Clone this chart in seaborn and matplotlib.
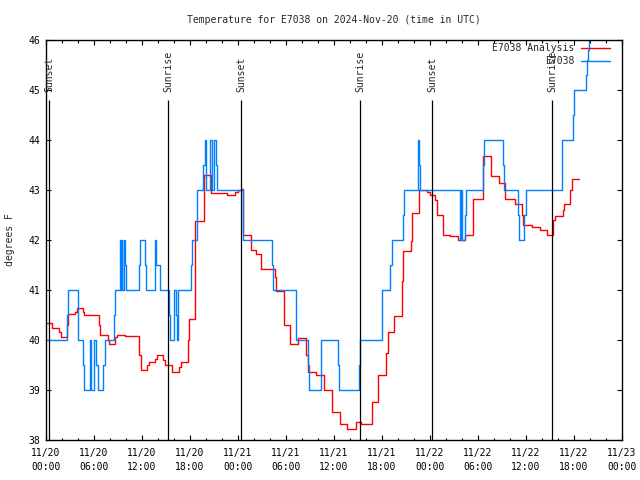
import pandas as pd
import seaborn as sns
import matplotlib.pyplot as plt
import matplotlib.dates as mdates

start = pd.Timestamp("2024-11-20 00:00")

# E7038 observations (hours after 11/20 00:00 UTC, degrees F)
obs_hours = [0, 2.6, 2.7, 3.95, 4.0, 4.65, 4.75, 5.45, 5.6, 6.0, 6.3, 6.45, 7.1, 7.35,
             8.5, 8.6, 9.25, 9.3, 9.4, 9.45, 9.55, 9.8, 9.9, 9.95, 11.6, 11.7, 12.4, 12.5,
             13.65, 13.75, 14.2, 15.4, 15.5, 16.0, 16.3, 16.4, 16.5, 18.1, 18.2, 18.85,
             19.65, 19.85, 20.05, 20.5, 20.7, 21.0, 21.25, 21.35, 24.65, 28.3, 28.4, 31.2,
             31.3, 32.8, 32.9, 34.4, 36.5, 36.6, 39.15, 39.25, 42.0, 43.0, 43.2, 44.6, 44.7,
             46.5, 46.6, 46.7, 51.8, 51.9, 52.0, 52.35, 52.5, 54.6, 54.7, 57.1, 57.2, 59.0,
             59.1, 59.8, 59.95, 64.5, 65.9, 66.0, 67.5, 67.6, 67.75, 67.9, 68.1, 69.0]
obs_temp = [40, 40.5, 41, 40.5, 40, 39.5, 39, 40, 39, 40, 39.5, 39, 39.5, 40,
            40.5, 41, 41.5, 42, 41, 42, 41, 42, 41.5, 41, 41.5, 42, 41.5, 41,
            42, 41.5, 41, 40.5, 40, 41, 40.5, 40, 41, 41.5, 42, 43,
            43.5, 44, 43, 44, 43, 44, 43.5, 43, 42, 41.5, 41, 40.5,
            40, 39.5, 39, 40, 39.5, 39, 39.5, 40, 41, 41.5, 42, 42.5, 43,
            44, 43.5, 43, 42, 43, 42, 42.5, 43, 43.5, 44, 43.5, 43, 42.5,
            42, 42.5, 43, 44, 44.5, 45, 45.3, 45.6, 45.8, 46.2, 46.5, 46.5]

# E7038 analysis
ana_hours = [0, 0.7, 1.67, 1.83, 2.67, 2.8, 3.6, 3.83, 4.67, 4.8, 6.67, 6.8, 7.7, 7.83,
             8.67, 8.83, 9.9, 11.67, 11.83, 12.5, 12.67, 12.9, 13.67, 13.83, 14.67, 14.875,
             15.7, 15.8, 16.67, 16.83, 17.7, 17.83, 18.67, 19.7, 20.65, 22.6, 23.6, 24.0,
             24.4, 24.67, 25.6, 26.3, 26.9, 28.6, 28.8, 29.7, 30.5, 31.5, 32.5, 32.7, 33.7,
             34.7, 35.7, 36.7, 37.6, 38.7, 39.4, 40.7, 41.5, 42.5, 42.7, 43.5, 44.5, 44.6,
             45.6, 45.8, 46.6, 47.6, 48.0, 48.6, 48.9, 49.6, 50.5, 51.5, 52.4, 53.4, 54.6,
             55.6, 56.6, 57.4, 58.6, 59.5, 59.6, 60.7, 61.7, 62.6, 63.4, 63.6, 64.6, 64.7,
             65.5, 65.7, 66.6]
ana_temp = [40.33, 40.23, 40.15, 40.05, 40.3, 40.51, 40.56, 40.63, 40.56, 40.49, 40.3, 40.09,
            40.0, 39.92, 40.05, 40.1, 40.07, 39.7, 39.41, 39.4, 39.5, 39.55, 39.62, 39.7,
            39.6, 39.49, 39.45, 39.35, 39.45, 39.55, 40.0, 40.42, 42.38, 43.29, 42.93, 42.9,
            42.95, 43.0, 43.02, 42.09, 41.8, 41.73, 41.42, 41.25, 40.97, 40.3, 39.92, 40.03,
            39.7, 39.35, 39.3, 39.0, 38.55, 38.31, 38.22, 38.35, 38.32, 38.75, 39.29, 39.73,
            40.15, 40.48, 41.17, 41.78, 41.97, 42.55, 43.0, 42.95, 42.9, 42.8, 42.5, 42.1,
            42.07, 42.0, 42.1, 42.81, 43.68, 43.28, 43.13, 42.83, 42.73, 42.5, 42.3, 42.25,
            42.2, 42.1, 42.4, 42.48, 42.6, 42.72, 43.0, 43.21, 43.21]

sun_hours = [0.41, 15.29, 24.41, 39.29, 48.29, 63.29]
sun_labels = ["Sunset", "Sunrise", "Sunset", "Sunrise", "Sunset", "Sunrise"]


def to_time(hours):
    return start + pd.to_timedelta(hours, unit="h")


ana = pd.DataFrame({"time": to_time(ana_hours), "temp": ana_temp})
obs = pd.DataFrame({"time": to_time(obs_hours), "temp": obs_temp})

sns.set_style("ticks")
plt.rcParams["font.family"] = ["DejaVu Sans Mono"]
plt.rcParams["font.size"] = 7

fig = plt.figure(figsize=(6.4, 4.8), dpi=100)
ax = fig.add_axes([46 / 640, 40 / 480, 576 / 640, 400 / 480])

sns.lineplot(data=ana, x="time", y="temp", color="#ff0000", lw=1.0,
             drawstyle="steps-post", label="E7038 Analysis", ax=ax)
sns.lineplot(data=obs, x="time", y="temp", color="#0080ff", lw=1.0,
             drawstyle="steps-post", label="E7038", ax=ax)

# sunrise / sunset markers
sun_times = to_time(sun_hours)
ax.vlines(sun_times, 38, 44.8, colors="black", lw=0.9)
for t, lab in zip(sun_times, sun_labels):
    ax.text(t, 44.96, lab, rotation=90, ha="center", va="bottom", fontsize=7)

ax.set_xlim(start, start + pd.Timedelta(hours=72))
ax.set_ylim(38, 46)
ax.set_yticks(range(38, 47))
ax.xaxis.set_major_locator(mdates.HourLocator(byhour=[0, 6, 12, 18]))
ax.xaxis.set_minor_locator(mdates.HourLocator(interval=2))
ax.xaxis.set_major_formatter(mdates.DateFormatter("%m/%d\n%H:%M"))

ax.tick_params(which="both", direction="in", top=True, right=True, width=0.8,
               colors="black", labelsize=7)
ax.tick_params(which="major", length=3.6)
ax.tick_params(which="minor", length=1.8)
ax.tick_params(axis="x", pad=6)
ax.tick_params(axis="y", pad=4)
for sp in ax.spines.values():
    sp.set_visible(True)
    sp.set_color("black")
    sp.set_linewidth(1.0)

ax.set_xlabel("")
ax.set_ylabel("degrees F", fontsize=7)
ax.yaxis.set_label_coords(-31 / 576, 0.5)
ax.set_title("Temperature for E7038 on 2024-Nov-20 (time in UTC)", fontsize=7, pad=12)

handles, labels = ax.get_legend_handles_labels()
ax.legend(handles, labels, loc="upper right", bbox_to_anchor=(610 / 640, 1 - 43 / 480),
          bbox_transform=fig.transFigure, frameon=False, markerfirst=False,
          handlelength=3.0, handletextpad=0.7, labelspacing=0.35, borderpad=0,
          borderaxespad=0, fontsize=7)

fig.canvas.draw()
for lab in ax.get_xticklabels():
    lab.set_linespacing(1.5)

fig.savefig("out.png", dpi=100)
